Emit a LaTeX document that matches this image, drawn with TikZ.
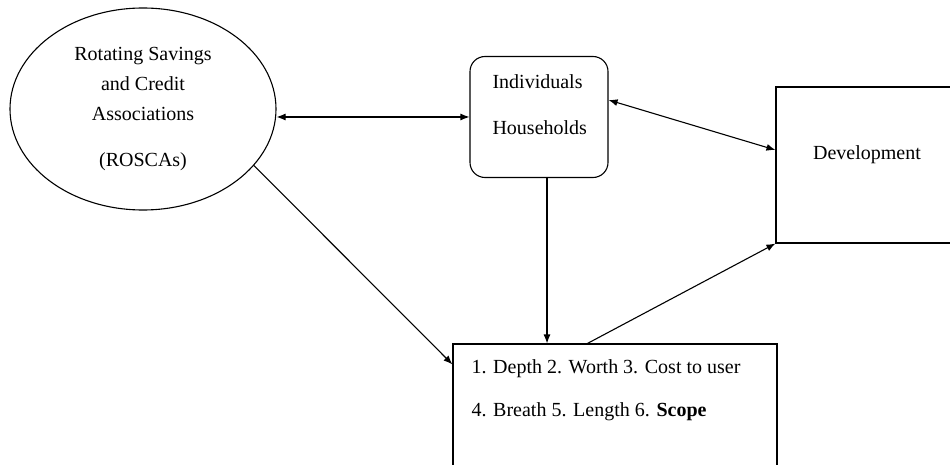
\documentclass[tikz,border=0pt]{standalone}
\usepackage{fontspec}
\setmainfont{Liberation Serif}
\usetikzlibrary{shapes.geometric,arrows.meta}
\begin{document}
\begin{tikzpicture}[x=1pt,y=1pt,>={Latex[length=9pt,width=7pt]},
        every node/.style={font=\fontsize{20}{30}\selectfont}]
            \useasboundingbox (0,0) rectangle (950,464);
            \clip (0,0) rectangle (950,464);
            \begin{scope}[every node/.append style={draw,line width=1.1pt,inner sep=0pt}]
                \node[ellipse,align=center,minimum width=266pt,minimum height=202pt] (1) at (143,355)
                    {Rotating Savings\\and Credit\\Associations\\[16pt](ROSCAs)};
                \node[rectangle,rounded corners=15pt,minimum width=138pt,minimum height=121pt] (2) at (539,347) {};
                \node[rectangle,minimum width=184pt,minimum height=156pt] (3) at (868,299) {};
                \node[rectangle,minimum width=324pt,minimum height=146pt] (4) at (615,47) {};
            \end{scope}
            \begin{scope}[every node/.append style={anchor=base west}]
                \node (2a) at (489,375) {Individuals};
                \node (2b) at (489,329) {Households};
                \node (4a) at (468,91) {1. Depth 2. Worth 3. Cost to user};
                \node (4b) at (468,48) {4. Breath 5. Length 6. \textbf{Scope}};
            \end{scope}
            \node (3a) at (867,309) {Development};
            \begin{scope}[every edge/.style={draw,line width=1.1pt}]
                \path
                    (2.west -| 1.east) edge [<->] (2.west)
                    ([yshift=17pt]2.east) edge [<->] ([yshift=15pt]3.west)
                    ([xshift=8pt]2.south) edge [->] ([xshift=8pt]2.south |- 4.north)
                    (1.-27) edge [->] ([yshift=-21pt]4.north west)
                    ([xshift=135pt]4.north west) edge [->] (3.south west);
            \end{scope}
        \end{tikzpicture}
\end{document}
